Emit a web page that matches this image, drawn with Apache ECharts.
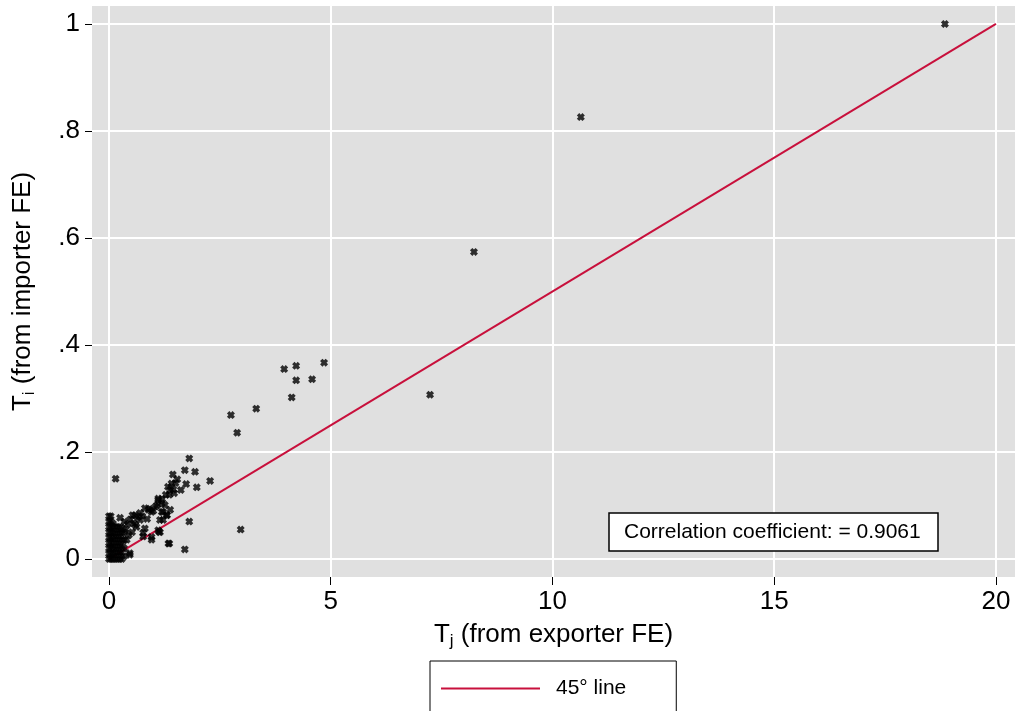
<!DOCTYPE html>
<html>
<head>
<meta charset="utf-8">
<script src="https://cdn.jsdelivr.net/npm/echarts@6/dist/echarts.min.js"></script>
<style>
  html, body { margin: 0; padding: 0; background: #fff; }
  #chart { width: 1015px; height: 711px; }
</style>
</head>
<body>
<div id="chart"></div>
<script>
// tick values and labels
var xTicks = [0, 5, 10, 15, 20];
var yTicks = [0, 0.2, 0.4, 0.6, 0.8, 1];
var yTickLabels = ['0', '.2', '.4', '.6', '.8', '1'];

// 45 degree line
var lineX = [0, 20];
var lineY = [0, 1];

// scatter points [Tj, Ti]
var farPts = [[18.85, 1.0], [10.64, 0.826], [8.23, 0.574], [7.24, 0.307]];
var midPts = [
    [3.95, 0.355], [4.22, 0.361], [4.85, 0.367], [4.22, 0.334], [4.58, 0.336],
    [4.12, 0.302], [3.32, 0.281], [2.75, 0.269], [2.89, 0.236]
];
var lowPts = [
    [1.81, 0.188], [1.71, 0.166], [1.94, 0.163], [1.44, 0.158], [2.28, 0.146],
    [1.54, 0.149], [1.74, 0.140], [1.98, 0.134], [1.41, 0.141], [1.62, 0.129],
    [1.38, 0.129], [1.36, 0.120], [1.47, 0.123], [1.11, 0.110], [1.19, 0.104],
    [1.26, 0.101], [1.09, 0.101], [1.38, 0.092], [0.96, 0.088], [1.22, 0.088],
    [1.31, 0.082], [1.15, 0.073], [1.81, 0.070], [1.13, 0.051], [0.96, 0.041],
    [2.97, 0.055], [1.36, 0.029], [1.71, 0.018], [0.15, 0.150], [0.25, 0.077],
    [1.11, 0.113], [0.81, 0.095], [0.89, 0.092], [0.59, 0.082], [0.70, 0.073],
    [0.81, 0.057], [0.55, 0.067], [1.11, 0.054], [0.77, 0.042], [1.34, 0.029],
    [0.47, 0.008], [0.40, 0.036], [1.19, 0.088], [1.30, 0.082], [1.22, 0.073],
    [0.53, 0.082], [0.70, 0.086], [0.59, 0.064], [0.47, 0.011], [0.77, 0.049],
    [1.15, 0.050], [0.96, 0.036], [0.65, 0.078], [0.75, 0.080], [0.86, 0.075],
    [0.92, 0.094], [1.00, 0.090], [1.05, 0.098], [1.20, 0.112], [1.28, 0.120],
    [1.33, 0.135], [1.45, 0.130], [1.50, 0.142], [0.62, 0.060], [0.52, 0.050],
    [0.45, 0.045], [0.38, 0.055], [0.42, 0.065], [0.35, 0.070], [0.48, 0.074]
];
// dense block near zero
var nearZeroPts = [
    [0.00, 0.00], [0.00, 0.01], [0.00, 0.02], [0.00, 0.03], [0.00, 0.04],
    [0.00, 0.05], [0.00, 0.06], [0.00, 0.07], [0.00, 0.08],
    [0.04, 0.00], [0.04, 0.01], [0.04, 0.02], [0.04, 0.03], [0.04, 0.04],
    [0.04, 0.05], [0.04, 0.06], [0.04, 0.07], [0.04, 0.08],
    [0.09, 0.000], [0.09, 0.012], [0.09, 0.024], [0.09, 0.036], [0.09, 0.048], [0.09, 0.060], [0.09, 0.066],
    [0.14, 0.000], [0.14, 0.012], [0.14, 0.024], [0.14, 0.036], [0.14, 0.048], [0.14, 0.060],
    [0.19, 0.000], [0.19, 0.012], [0.19, 0.024], [0.19, 0.036], [0.19, 0.048], [0.19, 0.060],
    [0.24, 0.000], [0.24, 0.012], [0.24, 0.024], [0.24, 0.036], [0.24, 0.048], [0.24, 0.060],
    [0.29, 0.000], [0.29, 0.012], [0.29, 0.024], [0.29, 0.036], [0.29, 0.048], [0.29, 0.058],
    [0.34, 0.005], [0.34, 0.020], [0.34, 0.035], [0.34, 0.050]
];

var FONT = '"Liberation Sans", Arial, sans-serif';
var RED = '#c8103c';
// bold "x" marker like stata
var xMark = 'path://M0,3 L3,0 L5,2 L7,0 L10,3 L8,5 L10,7 L7,10 L5,8 L3,10 L0,7 L2,5 Z';

var allPts = nearZeroPts.concat(lowPts, midPts, farPts);

var chart = echarts.init(document.getElementById('chart'));
var option = {
    backgroundColor: '#fff',
    animation: false,
    textStyle: { fontFamily: FONT, color: '#000' },
    title: {
        text: 'Correlation coefficient: = 0.9061',
        left: 609,
        top: 513,
        padding: [9, 18, 8, 15],
        borderColor: '#000',
        borderWidth: 1.5,
        backgroundColor: '#fff',
        textStyle: { fontSize: 21, fontWeight: 'normal', color: '#000', fontFamily: FONT }
    },
    legend: {
        left: 430,
        top: 661,
        padding: [17, 50, 40, 11],
        borderColor: '#000',
        borderWidth: 1,
        backgroundColor: '#fff',
        itemWidth: 99,
        itemHeight: 2,
        data: [{ name: '45° line', icon: 'rect' }],
        textStyle: { fontSize: 21, color: '#000', fontFamily: FONT, padding: [0, 0, 0, 11] }
    },
    grid: {
        left: 92,
        right: 0,
        top: 6,
        bottom: 134,
        show: true,
        backgroundColor: '#e0e0e0',
        borderWidth: 0
    },
    xAxis: {
        type: 'value',
        min: -0.383,
        max: 20.43,
        name: 'T{sub|j} (from exporter FE)',
        nameLocation: 'middle',
        nameGap: 42,
        nameTextStyle: {
            fontSize: 26, color: '#000', fontFamily: FONT,
            rich: { sub: { fontSize: 17, padding: [14, 0, 0, 0], fontFamily: FONT } }
        },
        axisLine: { show: false, onZero: false },
        axisTick: { show: true, length: 8, customValues: xTicks, lineStyle: { color: '#000', width: 1 } },
        axisLabel: { customValues: xTicks, fontSize: 26, color: '#000', margin: 12, fontFamily: FONT },
        splitLine: { show: true, lineStyle: { color: '#fff', width: 2 } }
    },
    yAxis: {
        type: 'value',
        min: -0.0336,
        max: 1.0336,
        name: 'T{sub|i} (from importer FE)',
        nameLocation: 'middle',
        nameGap: 54,
        nameTextStyle: {
            fontSize: 26, color: '#000', fontFamily: FONT,
            rich: { sub: { fontSize: 17, padding: [14, 0, 0, 0], fontFamily: FONT } }
        },
        axisLine: { show: false, onZero: false },
        axisTick: { show: true, length: 7, customValues: yTicks, lineStyle: { color: '#000', width: 1 } },
        axisLabel: {
            customValues: yTicks,
            fontSize: 26,
            color: '#000',
            margin: 12,
            fontFamily: FONT,
            formatter: function (v) {
                var i = yTicks.indexOf(v);
                return i >= 0 ? yTickLabels[i] : '';
            }
        },
        splitLine: { show: true, lineStyle: { color: '#fff', width: 2 } }
    },
    series: [
        {
            name: '45° line',
            type: 'line',
            data: lineX.map(function (x, i) { return [x, lineY[i]]; }),
            symbol: 'none',
            z: 2,
            lineStyle: { color: RED, width: 2 },
            itemStyle: { color: RED }
        },
        {
            name: 'points',
            type: 'scatter',
            data: allPts,
            symbol: xMark,
            symbolSize: 8,
            z: 3,
            itemStyle: { color: '#000' }
        }
    ]
};
chart.setOption(option);
</script>
</body>
</html>
